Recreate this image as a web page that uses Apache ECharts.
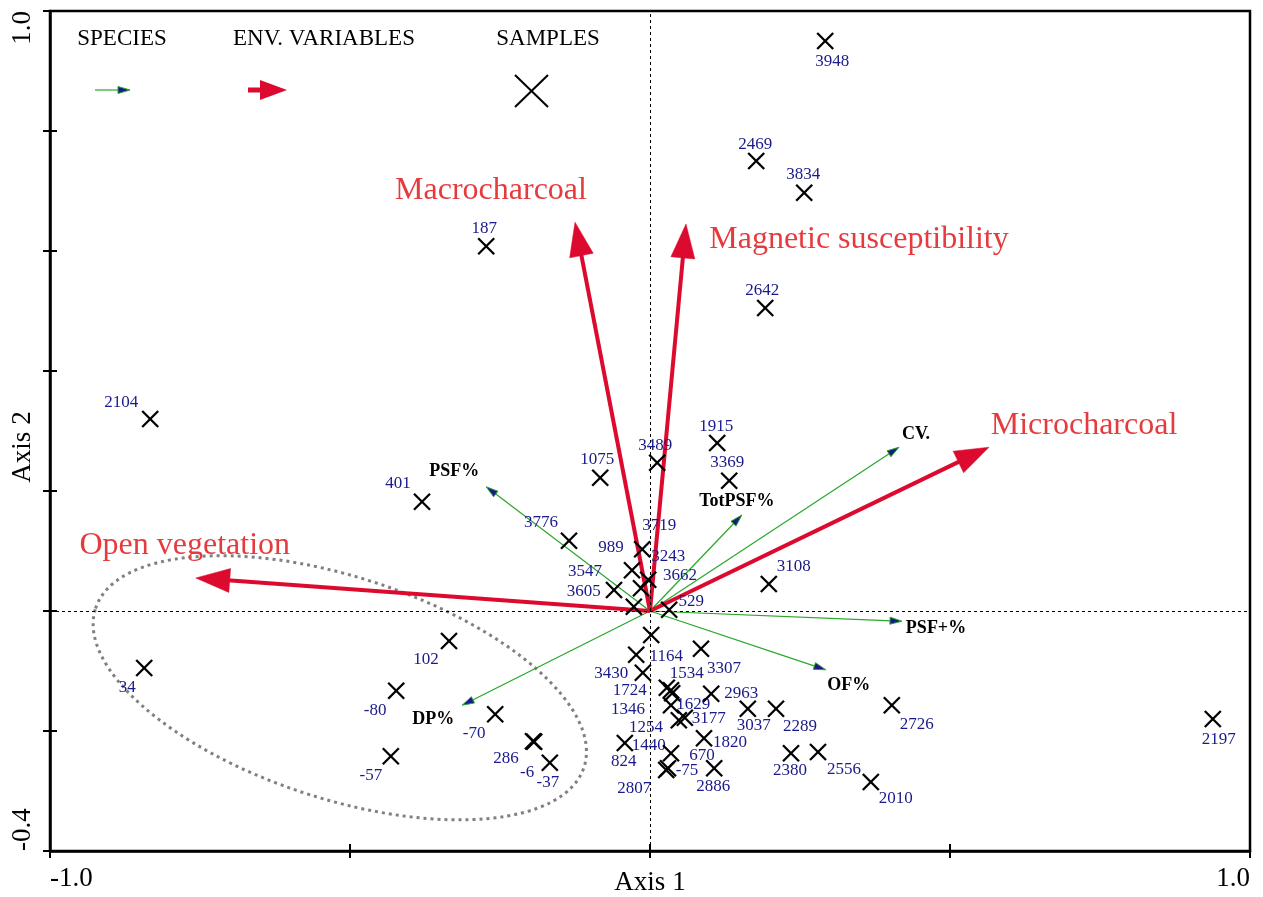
<!DOCTYPE html>
<html>
<head>
<meta charset="utf-8">
<script src="https://cdn.jsdelivr.net/npm/echarts@6/dist/echarts.min.js"></script>
<style>
html,body{margin:0;padding:0;background:#fff;}
#chart{width:1263px;height:897px;}
</style>
</head>
<body>
<div id="chart"></div>
<script>
// ---------- DATA ----------
const xTickValues = [-1, 1];
const xTickLabels = ['-1.0', '1.0'];
const yTickValues = [-0.4, 1];
const yTickLabels = ['-0.4', '1.0'];

const envNames = ['Macrocharcoal', 'Magnetic susceptibility', 'Microcharcoal', 'Open vegetation'];
const envX = [-0.125, 0.060, 0.565, -0.757];
const envY = [0.648, 0.645, 0.273, 0.055];

const speciesNames = ['PSF%', 'TotPSF%', 'CV.', 'PSF+%', 'OF%', 'DP%'];
const speciesX = [-0.273, 0.153, 0.415, 0.420, 0.293, -0.313];
const speciesY = [0.207, 0.160, 0.273, -0.017, -0.098, -0.157];

const sampleNames = ['3948','2469','3834','2642','187','2104','1915','3369','3489','1075','401','3776','3108',
  '3719','989','3243','3662','3547','3605','529',
  '1164','3430','3307','1724','1534','1346','1629','1254','3177','1440','2963','670','-75','2807','1820','824','2886',
  '3037','2289','2380','2556','2010','2726','2197',
  '102','34','-80','-70','286','-6','-37','-57'];
const sampleX = [0.292,0.177,0.257,0.192,-0.273,-0.833,0.112,0.132,0.012,-0.083,-0.380,-0.135,0.198,
  -0.013,-0.030,-0.003,-0.015,-0.060,-0.027,0.032,
  0.002,-0.023,0.085,-0.012,0.028,0.035,0.037,0.035,0.058,0.048,0.102,0.035,0.030,0.027,0.090,-0.042,0.107,
  0.163,0.210,0.235,0.280,0.368,0.403,0.938,
  -0.335,-0.843,-0.423,-0.258,-0.195,-0.193,-0.167,-0.432];
const sampleY = [0.950,0.750,0.697,0.505,0.608,0.320,0.280,0.217,0.247,0.222,0.182,0.117,0.045,
  0.103,0.068,0.052,0.038,0.035,0.007,0.002,
  -0.040,-0.073,-0.063,-0.103,-0.128,-0.132,-0.137,-0.157,-0.178,-0.182,-0.138,-0.237,-0.262,-0.265,-0.212,-0.220,-0.262,
  -0.163,-0.163,-0.237,-0.235,-0.285,-0.157,-0.180,
  -0.050,-0.095,-0.133,-0.172,-0.217,-0.218,-0.253,-0.242];

// ellipse annotation: centre, semi-axes (axis units), tilt in degrees (clockwise on screen)
const ellipseCentre = [-0.517, -0.128];
const ellipseAxes = [0.428, 0.185];
const ellipseTilt = 18;

// ---------- STYLE (label placements in px relative to marks) ----------
const envLabelOffset = [[-84,-32],[173,16],[95,-22],[-11,-32]];
const speciesLabelOffset = [[-32,-15],[-5,-14],[17,-13],[34,7],[23,16],[-29,14]];
const sampleLabelOffset = [[7,21],[-1,-16],[-1,-18],[-3,-17],[-2,-18],[-29,-16],[-1,-16],[-2,-18],[-2,-17],[-3,-18],[-24,-18],[-28,-18],[25,-17],
  [17,-24],[-21,-23],[20,-23],[39,-13],[-29,-18],[-50,-15],[22,-8],
  [15,22],[-25,19],[23,20],[-13,18],[20,-14],[-43,19],[21,11],[-25,22],[24,1],[-30,25],[30,0],[31,2],[19,2],[-32,19],[26,4],[-1,19],[-1,18],
  [6,17],[24,18],[-1,17],[26,18],[25,17],[25,19],[6,21],
  [-23,19],[-17,20],[-21,20],[-21,19],[-27,17],[-7,31],[-2,20],[-20,19]];

const FONT = '"Liberation Serif", "Times New Roman", serif';
const RED = '#dc0a2e';
const RED_TEXT = '#e53b3e';
const GREEN = '#2aa62a';
const NAVY = '#1a1a8a';

function tickFmt(vals, labs) {
  return function (v) {
    for (let i = 0; i < vals.length; i++) if (Math.abs(v - vals[i]) < 1e-6) return labs[i];
    return '';
  };
}

function arrowRenderer(opt) {
  return function (params, api) {
    const i = params.dataIndex;
    const o = api.coord([0, 0]);
    const t = api.coord([api.value(0), api.value(1)]);
    const dx = t[0] - o[0], dy = t[1] - o[1];
    const L = Math.hypot(dx, dy);
    const ux = dx / L, uy = dy / L;
    const bx = t[0] - ux * opt.headLen, by = t[1] - uy * opt.headLen;
    const px = -uy * opt.headW / 2, py = ux * opt.headW / 2;
    const off = opt.offsets[i];
    return {
      type: 'group',
      children: [
        { type: 'line', shape: { x1: o[0], y1: o[1], x2: bx + ux * 2, y2: by + uy * 2 },
          style: { stroke: opt.color, lineWidth: opt.lineWidth } },
        { type: 'polygon', shape: { points: [[t[0], t[1]], [bx + px, by + py], [bx - px, by - py]] },
          style: { fill: opt.headFill, stroke: opt.headStroke, lineWidth: opt.headStrokeW } },
        { type: 'text', x: t[0] + off[0], y: t[1] + off[1],
          style: { text: opt.names[i], fill: opt.textColor, fontSize: opt.fontSize, fontFamily: FONT,
                   fontWeight: opt.fontWeight, align: 'center', verticalAlign: 'middle' } }
      ]
    };
  };
}

const chart = echarts.init(document.getElementById('chart'));

const axisCommon = {
  type: 'value',
  splitLine: { show: false },
};

const option = {
  animation: false,
  backgroundColor: '#fff',
  grid: { left: 50, top: 11, width: 1200, height: 840, containLabel: false, outerBoundsMode: 'none',
    show: true, borderColor: '#000', borderWidth: 2.5, backgroundColor: 'transparent' },
  xAxis: [
    Object.assign({}, axisCommon, {
      min: -1, max: 1, interval: 0.5, position: 'bottom',
      axisLine: { show: true, onZero: false, lineStyle: { color: '#000', width: 2.5 } },
      axisTick: { show: true, length: 7, lineStyle: { color: '#000', width: 2 } },
      axisLabel: { show: true, margin: 14, formatter: tickFmt(xTickValues, xTickLabels), showMinLabel: true, showMaxLabel: true,
        alignMinLabel: 'left', alignMaxLabel: 'right',
        color: '#000', fontSize: 27, fontFamily: FONT },
      name: 'Axis 1', nameLocation: 'middle', nameGap: 18, nameMoveOverlap: false,
      nameTextStyle: { color: '#000', fontSize: 27, fontFamily: FONT, verticalAlign: 'top' }
    }),
    Object.assign({}, axisCommon, {
      min: -1, max: 1, interval: 0.5, position: 'bottom',
      axisLine: { show: false, onZero: false },
      axisTick: { show: true, inside: true, length: 7, lineStyle: { color: '#000', width: 2 } },
      axisLabel: { show: false }
    })
  ],
  yAxis: [
    Object.assign({}, axisCommon, {
      min: -0.4, max: 1, interval: 0.2, position: 'left',
      axisLine: { show: true, onZero: false, lineStyle: { color: '#000', width: 2.5 } },
      axisTick: { show: true, length: 7, lineStyle: { color: '#000', width: 2 } },
      axisLabel: { show: true, margin: 14, rotate: 90, formatter: tickFmt(yTickValues, yTickLabels), showMinLabel: true, showMaxLabel: true,
        alignMinLabel: 'left', alignMaxLabel: 'right',
        color: '#000', fontSize: 27, fontFamily: FONT },
      name: 'Axis 2', nameLocation: 'middle', nameGap: 14, nameRotate: 90, nameMoveOverlap: false,
      nameTextStyle: { color: '#000', fontSize: 27, fontFamily: FONT, verticalAlign: 'bottom', padding: [0, 32, 0, 0] }
    }),
    Object.assign({}, axisCommon, {
      min: -0.4, max: 1, interval: 0.2, position: 'left',
      axisLine: { show: false, onZero: false },
      axisTick: { show: true, inside: true, length: 7, lineStyle: { color: '#000', width: 2 } },
      axisLabel: { show: false }
    })
  ],
  graphic: [
    { type: 'text', x: 122, y: 39, style: { text: 'SPECIES', fill: '#000', fontSize: 23, fontFamily: FONT, align: 'center', verticalAlign: 'middle' } },
    { type: 'text', x: 324, y: 39, style: { text: 'ENV. VARIABLES', fill: '#000', fontSize: 23, fontFamily: FONT, align: 'center', verticalAlign: 'middle' } },
    { type: 'text', x: 548, y: 39, style: { text: 'SAMPLES', fill: '#000', fontSize: 23, fontFamily: FONT, align: 'center', verticalAlign: 'middle' } },
    { type: 'line', shape: { x1: 95, y1: 90, x2: 120, y2: 90 }, style: { stroke: GREEN, lineWidth: 1.2 } },
    { type: 'polygon', shape: { points: [[130, 90], [118, 86.5], [118, 93.5]] }, style: { fill: NAVY, stroke: GREEN, lineWidth: 1 } },
    { type: 'line', shape: { x1: 248, y1: 90, x2: 262, y2: 90 }, style: { stroke: RED, lineWidth: 5 } },
    { type: 'polygon', shape: { points: [[287, 90], [260, 80], [260, 100]] }, style: { fill: RED } },
    { type: 'line', shape: { x1: 515, y1: 75, x2: 548, y2: 107 }, style: { stroke: '#000', lineWidth: 2 } },
    { type: 'line', shape: { x1: 515, y1: 107, x2: 548, y2: 75 }, style: { stroke: '#000', lineWidth: 2 } }
  ],
  series: [
    {
      type: 'custom', name: 'ellipse', z: 1, silent: true,
      data: [ellipseCentre],
      renderItem: function (params, api) {
        const c = api.coord([api.value(0), api.value(1)]);
        const s = api.size([ellipseAxes[0], ellipseAxes[1]]);
        return {
          type: 'ellipse', x: c[0], y: c[1], rotation: -ellipseTilt * Math.PI / 180,
          shape: { cx: 0, cy: 0, rx: s[0], ry: s[1] },
          style: { fill: 'none', stroke: '#808080', lineWidth: 3, lineDash: [3, 4] }
        };
      },
      markLine: {
        silent: true, symbol: ['none', 'none'], label: { show: false },
        lineStyle: { color: '#000', type: [3, 3], width: 1 },
        data: [{ xAxis: 0 }, { yAxis: 0 }]
      }
    },
    {
      type: 'custom', name: 'species', z: 3, silent: true,
      data: speciesNames.map((n, i) => [speciesX[i], speciesY[i]]),
      renderItem: arrowRenderer({ names: speciesNames, offsets: speciesLabelOffset, color: GREEN, lineWidth: 1.2,
        headLen: 12, headW: 7, headFill: NAVY, headStroke: GREEN, headStrokeW: 1,
        textColor: '#000', fontSize: 18, fontWeight: 'bold' })
    },
    {
      type: 'custom', name: 'env', z: 4, silent: true,
      data: envNames.map((n, i) => [envX[i], envY[i]]),
      renderItem: arrowRenderer({ names: envNames, offsets: envLabelOffset, color: RED, lineWidth: 4,
        headLen: 34, headW: 24, headFill: RED, headStroke: RED, headStrokeW: 0.5,
        textColor: RED_TEXT, fontSize: 32, fontWeight: 'normal' })
    },
    {
      type: 'custom', name: 'samples', z: 5, silent: true,
      data: sampleNames.map((n, i) => [sampleX[i], sampleY[i]]),
      renderItem: function (params, api) {
        const i = params.dataIndex;
        const p = api.coord([api.value(0), api.value(1)]);
        const h = 8;
        const off = sampleLabelOffset[i];
        return {
          type: 'group',
          children: [
            { type: 'line', shape: { x1: p[0] - h, y1: p[1] - h, x2: p[0] + h, y2: p[1] + h }, style: { stroke: '#000', lineWidth: 2.3 } },
            { type: 'line', shape: { x1: p[0] - h, y1: p[1] + h, x2: p[0] + h, y2: p[1] - h }, style: { stroke: '#000', lineWidth: 2.3 } },
            { type: 'text', x: p[0] + off[0], y: p[1] + off[1],
              style: { text: sampleNames[i], fill: NAVY, fontSize: 17, fontFamily: FONT, align: 'center', verticalAlign: 'middle' } }
          ]
        };
      }
    }
  ]
};
chart.setOption(option);
</script>
</body>
</html>
